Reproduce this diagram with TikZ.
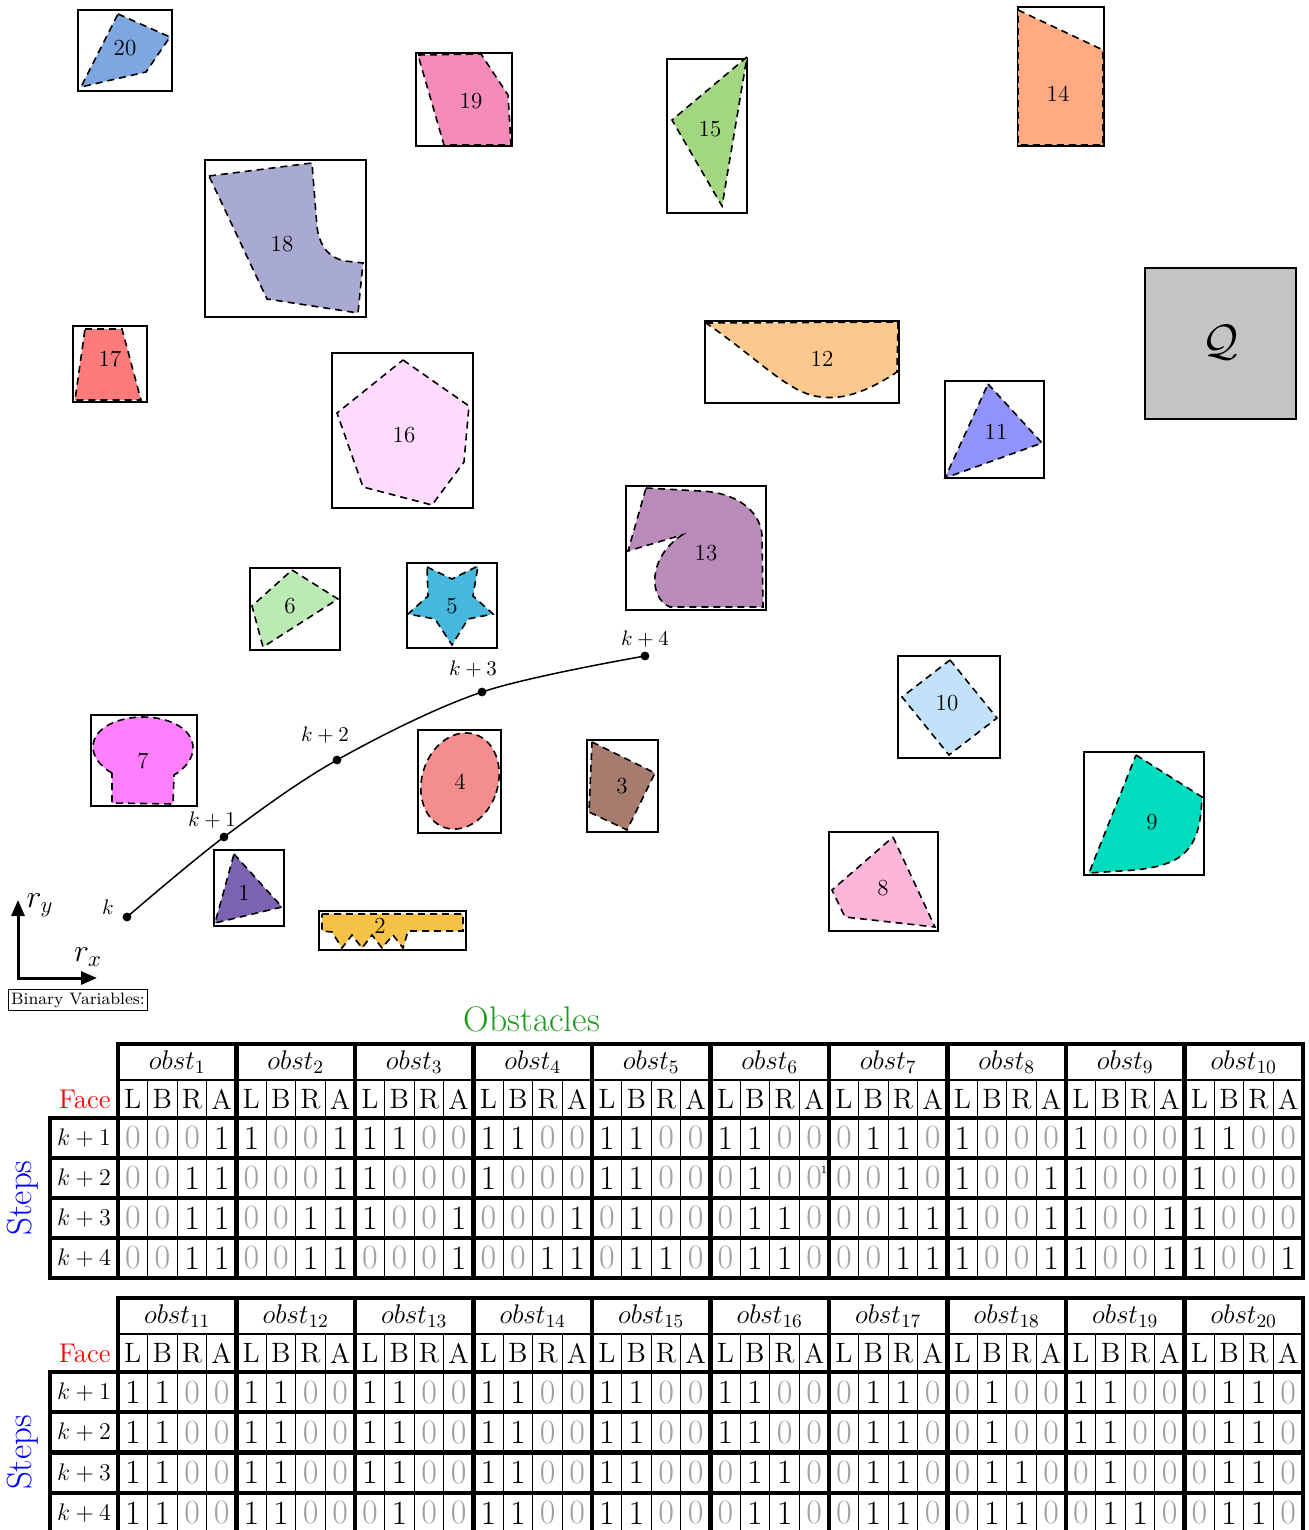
\RequirePackage{fix-cm}
\documentclass[tikz,border=0pt]{standalone}
\usepackage{fontspec}
\usetikzlibrary{arrows.meta}
\definecolor{c1}{HTML}{7B63B2}
\definecolor{c2}{HTML}{F5C245}
\definecolor{c3}{HTML}{A67C6F}
\definecolor{c4}{HTML}{F48D8D}
\definecolor{c5}{HTML}{47B8DB}
\definecolor{c6}{HTML}{BCEAB4}
\definecolor{c7}{HTML}{FF80FF}
\definecolor{c8}{HTML}{FBB6D9}
\definecolor{c9}{HTML}{00DDBE}
\definecolor{c10}{HTML}{C2E2FA}
\definecolor{c11}{HTML}{9094FA}
\definecolor{c12}{HTML}{FDC88E}
\definecolor{c13}{HTML}{B98BBA}
\definecolor{c14}{HTML}{FFAA80}
\definecolor{c15}{HTML}{A2D680}
\definecolor{c16}{HTML}{FFDAFF}
\definecolor{c17}{HTML}{FF7A7A}
\definecolor{c18}{HTML}{A9AAD2}
\definecolor{c19}{HTML}{F48BB8}
\definecolor{c20}{HTML}{7EA6E0}
\definecolor{qgray}{HTML}{C4C4C4}
\definecolor{zgray}{HTML}{A0A0A0}
\definecolor{obsgreen}{HTML}{1A9A1A}
\tikzset{
 obox/.style={draw, line width=1.3pt},
 oshape/.style={draw, line width=0.8pt, dash pattern=on 3.5pt off 2.5pt},
 olabel/.style={font=\fontsize{11.5}{13}\selectfont, inner sep=0pt},
 digit/.style={font=\fontsize{17}{20}\selectfont, inner sep=0pt},
 facelbl/.style={font=\fontsize{14}{16}\selectfont, inner sep=0pt},
 hdr/.style={font=\fontsize{13.5}{16}\selectfont, inner sep=0pt},
 steplbl/.style={font=\fontsize{12}{14}\selectfont, inner sep=0pt},
 thinline/.style={line width=0.5pt},
 midline/.style={line width=1pt},
 thickline/.style={line width=2.2pt, line cap=rect},
 traj/.style={line width=0.75pt},
 klabel/.style={font=\fontsize{10.5}{12}\selectfont, inner sep=0pt},
 axisarrow/.style={line width=1.5pt, -{Triangle[length=8pt,width=6.5pt]}},
 facetitle/.style={text=red, font=\fontsize{13.5}{16}\selectfont, inner sep=0pt, anchor=east},
 stepstitle/.style={text=blue, font=\fontsize{17.5}{20}\selectfont, inner sep=0pt, rotate=90},
}
\newcommand{\obstable}[6]{%
  \pgfmathsetmacro\tabB{#3+4*#4}
  \foreach \jj in {0,...,40} \draw[thinline] ({118+\jj*29.625},#2) -- ({118+\jj*29.625},\tabB);
  \draw[midline] (118,#2) -- (1303,#2);
  \foreach \jj in {0,...,10} \draw[thickline] ({118+\jj*118.5},#1) -- ({118+\jj*118.5},\tabB);
  \draw[thickline] (118,#1) -- (1303,#1);
  \foreach \ss in {0,...,4} \draw[thickline] (50,{#3+\ss*#4}) -- (1303,{#3+\ss*#4});
  \draw[thickline] (50,#3) -- (50,\tabB);
  \foreach \gg/\vals [count=\gidx from 0] in {#5} {
    \pgfmathsetmacro\gx{118+\gidx*118.5}
    \node[hdr] (#6h\gg) at ({\gx+59.25},{(#1+#2)/2}) {$obst_{\gg}$};
    \foreach \fc [count=\fidx from 0] in {L,B,R,A}
      \node[facelbl] (#6f\gg\fc) at ({\gx+(\fidx+0.5)*29.625},{(#2+#3)/2}) {\fc};
    \foreach \val [count=\nn from 0] in \vals {
      \pgfmathtruncatemacro\rr{int(\nn/4)}
      \pgfmathtruncatemacro\cc{mod(\nn,4)}
      \node[digit] (#6d\gg-\nn) at ({\gx+(\cc+0.5)*29.625},{#3+(\rr+0.5)*#4}) {\ifnum\val=1 1\else\textcolor{zgray}{0}\fi};
    }
  }
  \foreach \ss in {1,...,4}
    \node[steplbl] (#6s\ss) at (84,{#3+(\ss-0.5)*#4}) {$k+\ss$};
  \node[facetitle] (#6face) at (111,{(#2+#3)/2}) {Face};
  \node[stepstitle] (#6steps) at (23,{#3+2*#4}) {Steps};
}
\begin{document}
\begin{tikzpicture}[x=0.5pt,y=-0.5pt]
\useasboundingbox (0,0) rectangle (1308,1530);
% ---------- obstacle boxes ----------
\draw[obox] (78,10) rectangle (172,91);
\draw[obox] (416,53) rectangle (512,146);
\draw[obox] (205,160) rectangle (366,317);
\draw[obox] (667,59) rectangle (747,213);
\draw[obox] (1018,7) rectangle (1104,146);
\draw[obox] (73,326) rectangle (147,402);
\draw[obox] (332,353) rectangle (473,508);
\draw[obox] (705,321) rectangle (899,403);
\draw[obox] (945,381) rectangle (1044,478);
\draw[obox, fill=qgray] (1145,268) rectangle (1296,419);
\draw[obox] (626,486) rectangle (766,610);
\draw[obox] (250,568) rectangle (340,650);
\draw[obox] (407,563) rectangle (497,648);
\draw[obox] (91,715) rectangle (197,806);
\draw[obox] (418,730) rectangle (501,833);
\draw[obox] (587,740) rectangle (658,832);
\draw[obox] (898,656) rectangle (1000,758);
\draw[obox] (1084,752) rectangle (1204,875);
\draw[obox] (829,832) rectangle (938,931);
\draw[obox] (214,850) rectangle (284,926);
\draw[obox] (319,911) rectangle (466,950);
% ---------- obstacle shapes ----------
\path[oshape, fill=c20] (118,14) -- (170,37) -- (146,72) -- (81,87) -- cycle;
\path[oshape, fill=c19] (418,55) -- (481,54) -- (508,95) -- (511,145) -- (444,145) -- cycle;
\path[oshape, fill=c18] (209,176) -- (312,163) -- (317,227) .. controls (320,248) and (330,258) .. (345,261) -- (363,263) -- (358,313) -- (267,299) -- cycle;
\path[oshape, fill=c15] (747,57) -- (672,120) -- (722,206) -- cycle;
\path[oshape, fill=c14] (1018,10) -- (1103,50) -- (1103,145) -- (1018,145) -- cycle;
\path[oshape, fill=c17] (85,329) -- (122,329) -- (141,400) -- (75,400) -- cycle;
\path[oshape, fill=c16] (403,360) -- (469,406) -- (464,462) -- (432,505) -- (363,487) -- (337,413) -- cycle;
\path[oshape, fill=c12] (706,323) -- (898,322) -- (897,372) .. controls (870,390) and (845,400) .. (822,397) .. controls (790,395) and (760,360) .. (706,323);
\path[oshape, fill=c11] (988,384) -- (1042,443) -- (945,478) -- cycle;
\path[oshape, fill=c13] (646,488) -- (700,491) .. controls (735,492) and (760,510) .. (762,535) -- (763,607) -- (670,607) .. controls (648,598) and (648,557) .. (682,535) -- (628,551) -- cycle;
\path[oshape, fill=c6] (292,570) -- (338,599) -- (263,647) -- (252,606) -- cycle;
\path[oshape, fill=c5] (427,567) -- (452,579) -- (478,566) -- (473,596) -- (493,614) -- (468,619) -- (452,645) -- (435,619) -- (408,614) -- (428,596) -- cycle;
\path[oshape, fill=c7] (112,773) .. controls (98,765) and (93,755) .. (93,747) .. controls (93,728) and (118,717) .. (143,717) .. controls (168,717) and (193,728) .. (193,748) .. controls (193,758) and (186,768) .. (174,775) -- (173,804) -- (112,803) -- cycle;
\begin{scope}[shift={(460,781)}, rotate=-18]
\path[oshape, fill=c4] (0,0) ellipse [x radius=19pt, y radius=24.5pt];
\end{scope}
\path[oshape, fill=c3] (592,742) -- (655,773) -- (627,830) -- (589,812) -- cycle;
\path[oshape, fill=c10] (950,660) -- (997,718) -- (949,755) -- (902,697) -- cycle;
\path[oshape, fill=c9] (1136,755) -- (1202,797) .. controls (1200,850) and (1185,868) .. (1120,871) -- (1089,873) -- cycle;
\path[oshape, fill=c8] (893,837) -- (935,927) -- (845,917) -- (832,890) -- cycle;
\path[oshape, fill=c1] (234,854) -- (282,907) -- (215,923) -- cycle;
\path[oshape, fill=c2] (322,914) -- (463,914) -- (463,931) -- (408,931) -- (403,948) -- (393,935) -- (382,948) -- (372,935) -- (362,948) -- (352,935) -- (342,948) -- (332,932) -- (322,931) -- cycle;
% ---------- labels ----------
\node[olabel] (o20) at (125,48) {20};
\node[olabel] (o19) at (471,101) {19};
\node[olabel] (o18) at (282,244) {18};
\node[olabel] (o15) at (710,129) {15};
\node[olabel] (o14) at (1058,94) {14};
\node[olabel] (o17) at (110,359) {17};
\node[olabel] (o16) at (404,435) {16};
\node[olabel] (o12) at (822,359) {12};
\node[olabel] (o11) at (996,432) {11};
\node[olabel] (o13) at (706,553) {13};
\node[olabel] (o6) at (290,606) {6};
\node[olabel] (o5) at (452,606) {5};
\node[olabel] (o7) at (143,761) {7};
\node[olabel] (o4) at (460,782) {4};
\node[olabel] (o3) at (622,786) {3};
\node[olabel] (o10) at (947,703) {10};
\node[olabel] (o9) at (1152,822) {9};
\node[olabel] (o8) at (883,888) {8};
\node[olabel] (o1) at (244,893) {1};
\node[olabel] (o2) at (380,926) {2};
\node[font=\fontsize{22}{26}\selectfont, inner sep=0pt] (Q) at (1220,343) {$\mathcal{Q}$};
% ---------- trajectory ----------
\coordinate (k0) at (127,917);
\coordinate (k1) at (224,837);
\coordinate (k2) at (337,760);
\coordinate (k3) at (482,692);
\coordinate (k4) at (645,656);
\draw[traj] plot[smooth, tension=0.55] coordinates {(k0) (k1) (k2) (k3) (k4)};
\foreach \p in {k0,k1,k2,k3,k4} \fill (\p) circle (2.2pt);
\node[klabel] (lk0) at (108,907) {$k$};
\node[klabel] (lk1) at (212,820) {$k+1$};
\node[klabel] (lk2) at (325,735) {$k+2$};
\node[klabel] (lk3) at (473,669) {$k+3$};
\node[klabel] (lk4) at (645,639) {$k+4$};
% ---------- axes ----------
\coordinate (ax0) at (18,978);
\coordinate (axy) at (18,900);
\coordinate (axx) at (97,978);
\draw[axisarrow] (ax0) -- (axy);
\draw[axisarrow] ([xshift=-0.75pt]ax0) -- (axx);
\node[font=\fontsize{16}{18}\selectfont, inner sep=0pt] (ry) at (40,905) {$r_y$};
\node[font=\fontsize{16}{18}\selectfont, inner sep=0pt] (rx) at (88,957) {$r_x$};
\node[draw, line width=0.7pt, inner sep=1.5pt, font=\fontsize{8.3}{10}\selectfont] (bv) at (78,1000) {Binary Variables:};
\node[text=obsgreen, font=\fontsize{17.8}{20}\selectfont, inner sep=0pt] (obst) at (532,1019) {Obstacles};
% ---------- tables ----------
\obstable{1044}{1080}{1118}{40}{1/{0,0,0,1,0,0,1,1,0,0,1,1,0,0,1,1},2/{1,0,0,1,0,0,0,1,0,0,1,1,0,0,1,1},3/{1,1,0,0,1,0,0,0,1,0,0,1,0,0,0,1},4/{1,1,0,0,1,0,0,0,0,0,0,1,0,0,1,1},5/{1,1,0,0,1,1,0,0,0,1,0,0,0,1,1,0},6/{1,1,0,0,0,1,0,0,0,1,1,0,0,1,1,0},7/{0,1,1,0,0,0,1,0,0,0,1,1,0,0,1,1},8/{1,0,0,0,1,0,0,1,1,0,0,1,1,0,0,1},9/{1,0,0,0,1,0,0,0,1,0,0,1,1,0,0,1},10/{1,1,0,0,1,0,0,0,1,0,0,0,1,0,0,1}}{A}
\node[font=\fontsize{5.5}{6}\selectfont, inner sep=0pt] (artefact) at (824,1170) {1};
\obstable{1298}{1334}{1372}{40.25}{11/{1,1,0,0,1,1,0,0,1,1,0,0,1,1,0,0},12/{1,1,0,0,1,1,0,0,1,1,0,0,1,1,0,0},13/{1,1,0,0,1,1,0,0,1,1,0,0,0,1,0,0},14/{1,1,0,0,1,1,0,0,1,1,0,0,1,1,0,0},15/{1,1,0,0,1,1,0,0,1,1,0,0,1,1,0,0},16/{1,1,0,0,1,1,0,0,0,1,1,0,0,1,1,0},17/{0,1,1,0,0,1,1,0,0,1,1,0,0,1,1,0},18/{0,1,0,0,0,1,0,0,0,1,1,0,0,1,1,0},19/{1,1,0,0,1,1,0,0,0,1,0,0,0,1,1,0},20/{0,1,1,0,0,1,1,0,0,1,1,0,0,1,1,0}}{B}
\end{tikzpicture}
\end{document}
